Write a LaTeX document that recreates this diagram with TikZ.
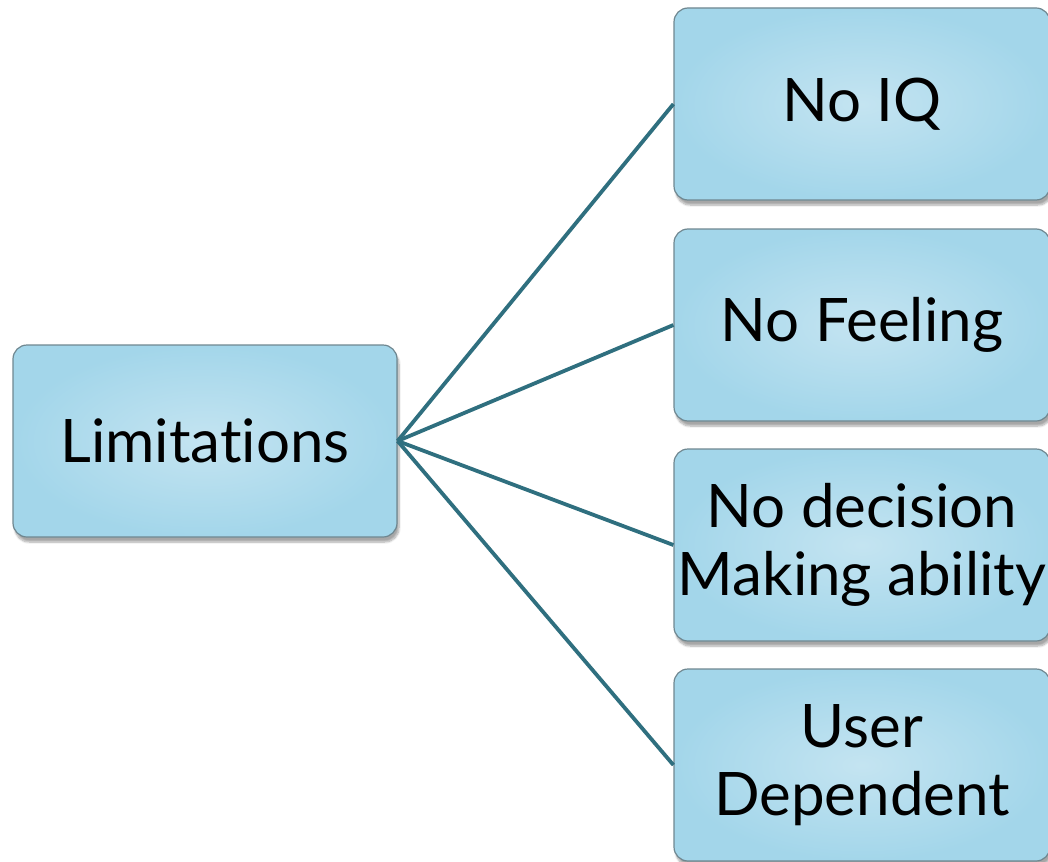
\documentclass[tikz,border=0pt]{standalone}
\usepackage{fontspec}
\setmainfont{Lato}[RawFeature={-liga;-dlig}]
\usetikzlibrary{shadows.blur}
\definecolor{boxin}{HTML}{C4E4F1}
\definecolor{boxout}{HTML}{A3D6EA}
\definecolor{boxrim}{HTML}{6F8790}
\definecolor{link}{HTML}{2F6F7F}
\tikzset{
  card/.style={draw=boxrim, line width=1.2pt, rounded corners=14pt,
    inner color=boxin, outer color=boxout,
    blur shadow={shadow xshift=2pt, shadow yshift=-5pt, shadow blur steps=8, shadow opacity=35},
    minimum height=192pt, align=center, font=\fontsize{60}{68}\selectfont, inner sep=0pt},
  link/.style={draw=link, line width=3.8pt}
}
\begin{document}
\begin{tikzpicture}[x=1pt,y=-1pt]
\useasboundingbox (0,0) rectangle (1048,861);
\node[card, minimum width=384pt] (lim) at (205,441) {Limitations};
\node[card, minimum width=376pt] (iq) at (862,104) {No IQ};
\node[card, minimum width=376pt] (feel) at (862,325) {No Feeling};
\node[card, minimum width=376pt] (dec) at (862,545) {No decision\\Making ability};
\node[card, minimum width=376pt] (user) at (862,765) {User\\Dependent};
\draw[link] (lim.east) -- (iq.west);
\draw[link] (lim.east) -- (feel.west);
\draw[link] (lim.east) -- (dec.west);
\draw[link] (lim.east) -- (user.west);
\end{tikzpicture}
\end{document}
